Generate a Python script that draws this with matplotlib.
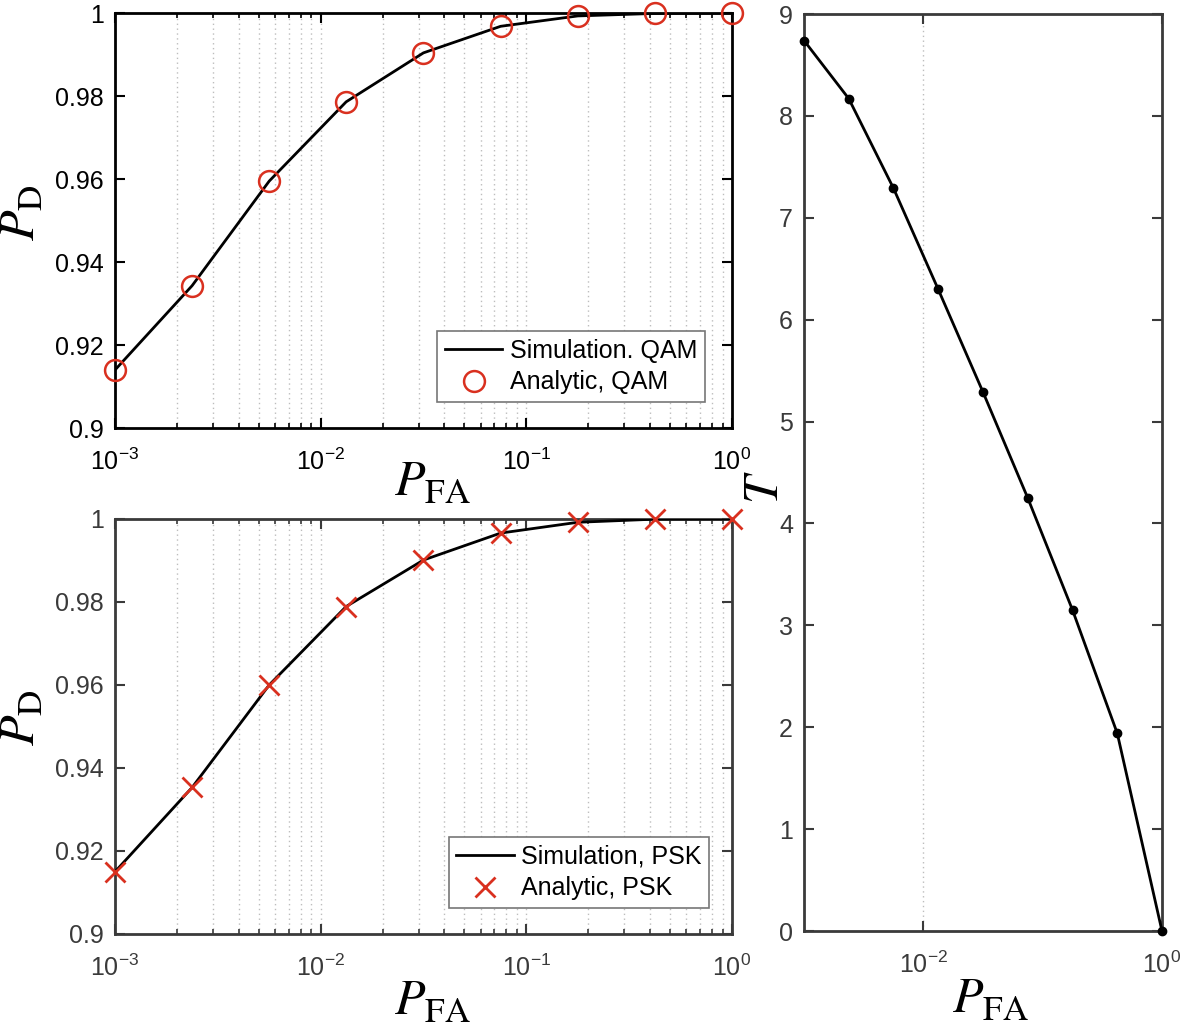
import matplotlib
matplotlib.use('Agg')
import matplotlib.pyplot as plt
import numpy as np
from matplotlib.ticker import FixedLocator, FuncFormatter, LogLocator, NullFormatter, NullLocator

plt.rcParams['font.family'] = ['Liberation Sans', 'DejaVu Sans']
plt.rcParams['mathtext.default'] = 'regular'

# ---- data ----
pfa = [0.001, 0.00237, 0.00562, 0.0133, 0.0316, 0.0750, 0.178, 0.422, 1.0]
pd_sim_qam = [0.9140, 0.9343, 0.9595, 0.9786, 0.9904, 0.9968, 0.9993, 0.9999, 1.0]
pd_ana_qam = [0.9140, 0.9343, 0.9595, 0.9786, 0.9904, 0.9968, 0.9993, 0.9999, 1.0]
pd_sim_psk = [0.9150, 0.9353, 0.9600, 0.9789, 0.9901, 0.9966, 0.9992, 0.99995, 1.0]
pd_ana_psk = [0.9150, 0.9353, 0.9600, 0.9789, 0.9901, 0.9966, 0.9992, 0.99995, 1.0]
threshold = [8.74, 8.17, 7.29, 6.30, 5.29, 4.25, 3.15, 1.94, 0.0]

pd_yticks = [0.9, 0.92, 0.94, 0.96, 0.98, 1.0]
pd_yticklabels = ['0.9', '0.92', '0.94', '0.96', '0.98', '1']
pd_xticks = [1e-3, 1e-2, 1e-1, 1e0]
t_xticks = [1e-2, 1e0]
t_yticks = [0, 1, 2, 3, 4, 5, 6, 7, 8, 9]

leg_qam = ['Simulation. QAM', 'Analytic, QAM']
leg_psk = ['Simulation, PSK', 'Analytic, PSK']

RED = '#D9301F'
GRAY = '#3a3a3a'
GRIDC = '#bdbdbd'
FS = 18

fig = plt.figure(figsize=(11.81, 10.25), dpi=100)
ax1 = fig.add_axes([0.0974, 0.5824, 0.5224, 0.4049])
ax2 = fig.add_axes([0.0974, 0.0888, 0.5224, 0.4049])
ax3 = fig.add_axes([0.6808, 0.0917, 0.3031, 0.8946])

logfmt = FuncFormatter(lambda v, p: r'$\mathregular{10^{%d}}$' % int(round(np.log10(v))))
lab_kw = dict(fontsize=36, math_fontfamily='stix', color='black')


def style_common(ax, col):
    ax.set_xscale('log')
    ax.set_xlim(1e-3, 1)
    ax.tick_params(which='both', direction='in', top=True, right=True,
                   colors=col, labelsize=FS)
    ax.tick_params(which='major', length=7, width=1.5)
    ax.tick_params(which='minor', length=3.5, width=1.2)
    ax.tick_params(axis='x', pad=15)
    ax.tick_params(axis='y', pad=8)
    for s in ax.spines.values():
        s.set_color(col)
        s.set_linewidth(2)
    ax.set_axisbelow(True)


def style_pd(ax, col):
    style_common(ax, col)
    ax.set_ylim(0.9, 1.0)
    ax.xaxis.set_major_locator(FixedLocator(pd_xticks))
    ax.xaxis.set_minor_locator(LogLocator(base=10, subs=np.arange(2, 10)))
    ax.xaxis.set_major_formatter(logfmt)
    ax.xaxis.set_minor_formatter(NullFormatter())
    ax.set_yticks(pd_yticks)
    ax.set_yticklabels(pd_yticklabels)
    ax.grid(True, axis='x', which='both', ls=(0, (1, 2.5)), color=GRIDC, lw=1)
    ax.set_ylabel(r'$\mathit{P}_{\mathrm{D}}$', **lab_kw)
    ax.set_xlabel(r'$\mathit{P}_{\mathrm{FA}}$', **lab_kw)


leg_kw = dict(loc='lower right', borderaxespad=0, fontsize=FS, fancybox=False,
              framealpha=1, edgecolor='#777777', handlelength=2.3,
              handletextpad=0.3, labelspacing=0.3, borderpad=0.3, numpoints=1)

# ---- top-left: QAM ----
style_pd(ax1, 'black')
ax1.plot(pfa, pd_sim_qam, color='black', lw=2, label=leg_qam[0], zorder=3)
ax1.plot(pfa, pd_ana_qam, ls='none', marker='o', ms=15, mfc='none', mec=RED,
         mew=1.8, label=leg_qam[1], clip_on=False, zorder=4)
ax1.xaxis.set_label_coords(0.515, -0.078)
ax1.yaxis.set_label_coords(-0.113, 0.52)
lg1 = ax1.legend(bbox_to_anchor=(0.956, 0.063), **leg_kw)
lg1.get_frame().set_linewidth(1.2)

# ---- bottom-left: PSK ----
style_pd(ax2, GRAY)
ax2.plot(pfa, pd_sim_psk, color='black', lw=2, label=leg_psk[0], zorder=3)
ax2.plot(pfa, pd_ana_psk, ls='none', marker='x', ms=14, mec=RED,
         mew=2, label=leg_psk[1], clip_on=False, zorder=4)
ax2.xaxis.set_label_coords(0.515, -0.108)
ax2.yaxis.set_label_coords(-0.113, 0.52)
lg2 = ax2.legend(bbox_to_anchor=(0.963, 0.063), **leg_kw)
lg2.get_frame().set_linewidth(1.2)

# ---- right: threshold ----
style_common(ax3, GRAY)
ax3.set_ylim(0, 9)
ax3.xaxis.set_major_locator(FixedLocator(t_xticks))
ax3.xaxis.set_minor_locator(NullLocator())
ax3.xaxis.set_major_formatter(logfmt)
ax3.set_yticks(t_yticks)
ax3.grid(True, axis='x', which='major', ls=(0, (1, 2.5)), color=GRIDC, lw=1)
ax3.plot(pfa, threshold, color='black', lw=2, marker='o', ms=6, clip_on=False, zorder=4)
ax3.set_xlabel(r'$\mathit{P}_{\mathrm{FA}}$', **lab_kw)
ax3.set_ylabel(r'$\mathit{T}$', **lab_kw)
ax3.xaxis.set_label_coords(0.52, -0.05)
ax3.yaxis.set_label_coords(-0.046, 0.484)

fig.savefig('out.png', dpi=100)
